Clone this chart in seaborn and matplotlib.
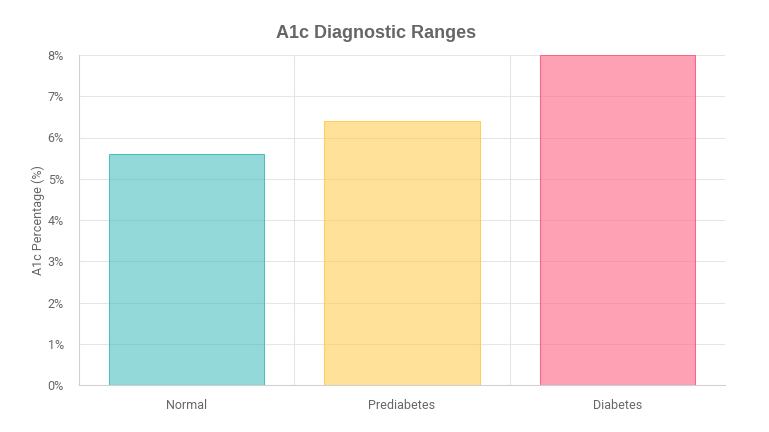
import matplotlib
matplotlib.use('Agg')
import matplotlib.pyplot as plt
import pandas as pd
import seaborn as sns
from matplotlib.ticker import FuncFormatter, FixedLocator


categories = ['Normal', 'Prediabetes', 'Diabetes']
a1c_values = [5.6, 6.4, 8.0]
bar_colors = ['#4bc0c0', '#ffce56', '#ff6384']
y_ticks = [0, 1, 2, 3, 4, 5, 6, 7, 8]

TEXT = '#666666'
GRID = '#e5e5e5'

sns.set_theme(style='white')
plt.rcParams['font.family'] = ['Roboto', 'DejaVu Sans']

df = pd.DataFrame({'category': categories, 'a1c': a1c_values})

fig = plt.figure(figsize=(7.69, 4.32), dpi=100)
ax = fig.add_axes([79 / 769, 1 - 385 / 432, (725 - 79) / 769, (385 - 55) / 432])

sns.barplot(data=df, x='category', y='a1c', hue='category', palette=bar_colors,
            width=0.72, legend=False, ax=ax)

for patch, color in zip(ax.patches, bar_colors):
    patch.set_facecolor(matplotlib.colors.to_rgba(color, 0.6))
    patch.set_edgecolor(color)
    patch.set_linewidth(0.75)

ax.set_xlim(-0.5, 2.5)
ax.set_ylim(0, 8)
ax.set_yticks(y_ticks)
ax.yaxis.set_major_formatter(FuncFormatter(lambda v, _: f'{v:.0f}%'))

# gridlines between categories, like Chart.js
ax.xaxis.set_minor_locator(FixedLocator([-0.5, 0.5, 1.5, 2.5]))
ax.grid(True, axis='y', which='major', color=GRID, linewidth=0.75)
ax.grid(True, axis='x', which='minor', color=GRID, linewidth=0.75)
ax.set_axisbelow(True)

ax.tick_params(axis='x', which='major', length=0, pad=10, labelsize=9, labelcolor=TEXT)
ax.tick_params(axis='x', which='minor', length=8, color=GRID, width=0.75)
ax.tick_params(axis='y', length=8, color=GRID, width=0.75, pad=3, labelsize=9, labelcolor=TEXT)

for side in ['top', 'right']:
    ax.spines[side].set_visible(False)
for side in ['left', 'bottom']:
    ax.spines[side].set_color('#d0d0d0')
    ax.spines[side].set_linewidth(0.75)

ax.set_xlabel('')
ax.set_ylabel('A1c Percentage (%)', color=TEXT, fontsize=9, labelpad=2)

fig.suptitle('A1c Diagnostic Ranges', x=376 / 769, y=1 - 33 / 432, va='center',
             fontsize=13, fontweight='bold', color=TEXT, family='Liberation Sans')

fig.savefig('out.png', dpi=100, facecolor='white')
